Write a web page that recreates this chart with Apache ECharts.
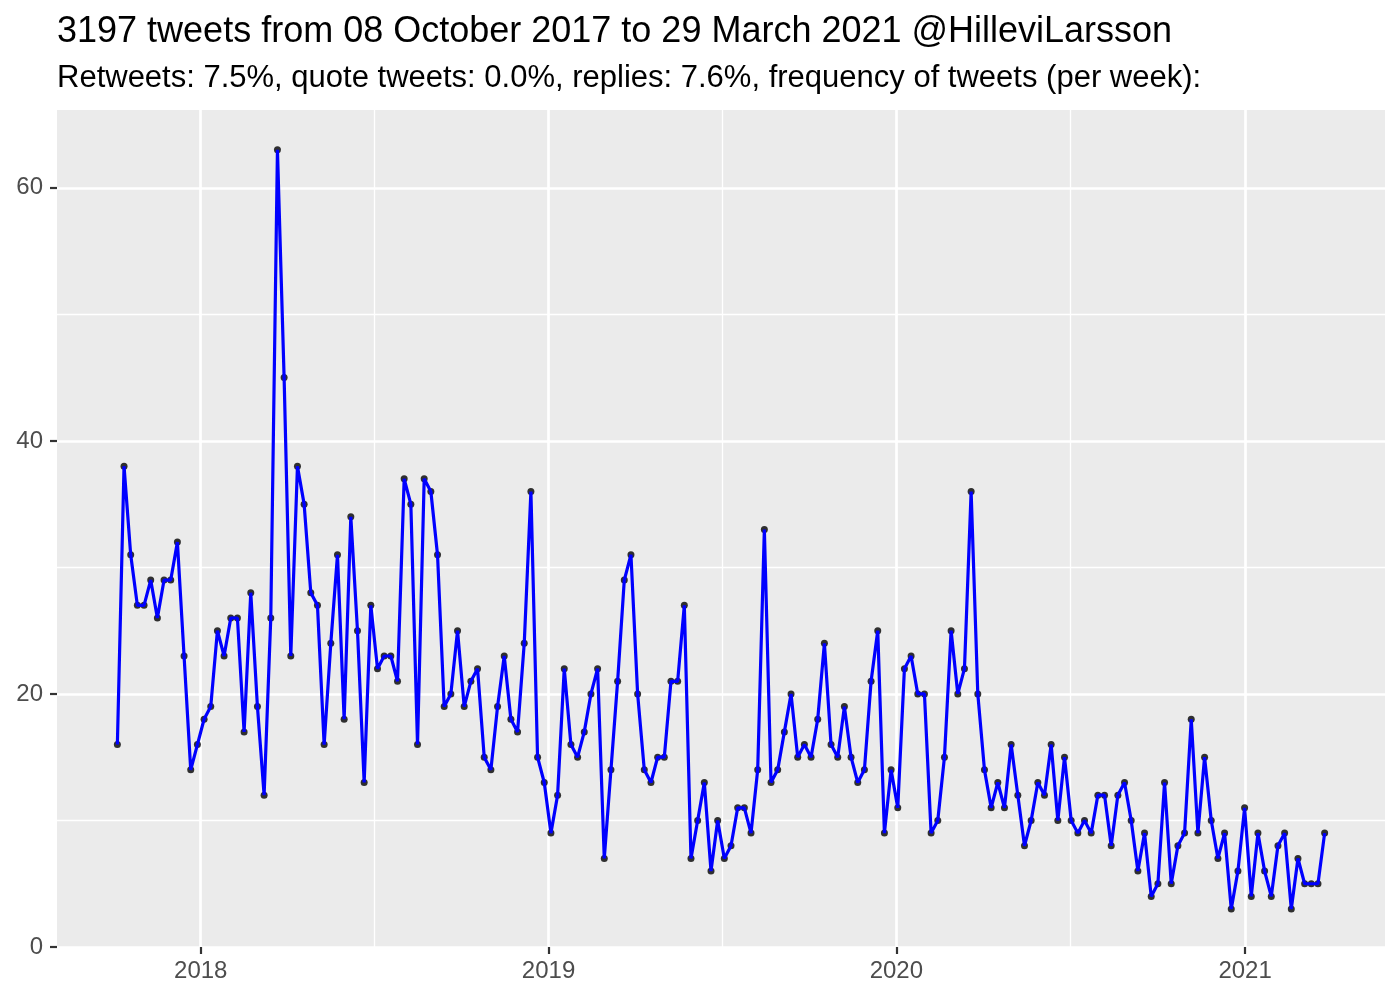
<!DOCTYPE html>
<html>
<head>
<meta charset="utf-8">
<script src="https://cdn.jsdelivr.net/npm/echarts@6/dist/echarts.min.js"></script>
<style>
  html, body { margin: 0; padding: 0; background: #ffffff; }
  #chart { width: 1400px; height: 1000px; }
</style>
</head>
<body>
<div id="chart"></div>
<script>
// Weekly tweet counts (182 weeks, total 3197)
const weeklyCounts = [
  16,38,31,27,27,29,26,29,29,32,
  23,14,16,18,19,25,23,26,26,17,
  28,19,12,26,63,45,23,38,35,28,
  27,16,24,31,18,34,25,13,27,22,
  23,23,21,37,35,16,37,36,31,19,
  20,25,19,21,22,15,14,19,23,18,
  17,24,36,15,13,9,12,22,16,15,
  17,20,22,7,14,21,29,31,20,14,
  13,15,15,21,21,27,7,10,13,6,
  10,7,8,11,11,9,14,33,13,14,
  17,20,15,16,15,18,24,16,15,19,
  15,13,14,21,25,9,14,11,22,23,
  20,20,9,10,15,25,20,22,36,20,
  14,11,13,11,16,12,8,10,13,12,
  16,10,15,10,9,10,9,12,12,8,
  12,13,10,6,9,4,5,13,5,8,
  9,18,9,15,10,7,9,3,6,11,
  4,9,6,4,8,9,3,7,5,5,
  5,9
];
// First weekly bin (UTC) and bin width
const firstWeek = Date.UTC(2017, 9, 5, 12);
const WEEK_MS = 7 * 24 * 3600 * 1000;
const weekDates = weeklyCounts.map((_, i) => firstWeek + i * WEEK_MS);

// Tick labels / breaks
const yearBreaks = [Date.UTC(2018,0,1), Date.UTC(2019,0,1), Date.UTC(2020,0,1), Date.UTC(2021,0,1)];
const yearMinorBreaks = [Date.UTC(2018,6,2,12), Date.UTC(2019,6,2,12), Date.UTC(2020,6,2)];
const yBreaks = [0, 20, 40, 60];
const yMinorBreaks = [10, 30, 50];

const titleText = '3197 tweets from 08 October 2017 to 29 March 2021 @HilleviLarsson';
const subtitleText = 'Retweets: 7.5%, quote tweets: 0.0%, replies: 7.6%, frequency of tweets (per week):';

const xSpan = weekDates[weekDates.length - 1] - weekDates[0];
const xMin = weekDates[0] - 0.05 * xSpan;
const xMax = weekDates[weekDates.length - 1] + 0.05 * xSpan;
const yMax = Math.max(...weeklyCounts) * 1.05;

const FONT = '"Liberation Sans", Arial, Helvetica, sans-serif';
const pts = weekDates.map((d, i) => [d, weeklyCounts[i]]);

const chart = echarts.init(document.getElementById('chart'), null, { renderer: 'canvas' });
chart.setOption({
  backgroundColor: '#ffffff',
  animation: false,
  title: [
    { text: titleText, left: 57, top: 14, padding: 0, textStyle: { fontFamily: FONT, fontSize: 36, fontWeight: 'normal', color: '#000000' } },
    { text: subtitleText, left: 57, top: 63, padding: 0, textStyle: { fontFamily: FONT, fontSize: 31, fontWeight: 'normal', color: '#000000' } }
  ],
  grid: {
    left: 57, right: 15, top: 110, bottom: 53,
    show: true, backgroundColor: '#EBEBEB', borderWidth: 0
  },
  xAxis: [
    {
      type: 'value', min: xMin, max: xMax,
      axisLine: { show: false },
      axisTick: { show: true, length: 7, customValues: yearBreaks, lineStyle: { color: '#333333', width: 2.2 } },
      axisLabel: { show: true, customValues: yearBreaks, margin: 12, fontFamily: FONT, fontSize: 24, color: '#4D4D4D',
        formatter: v => String(new Date(v).getUTCFullYear()) },
      splitLine: { show: true, lineStyle: { color: '#ffffff', width: 2.7 } }
    },
    {
      type: 'value', min: xMin, max: xMax, position: 'bottom',
      axisLine: { show: false },
      axisTick: { show: false, customValues: yearMinorBreaks },
      axisLabel: { show: false },
      splitLine: { show: true, lineStyle: { color: '#ffffff', width: 1.35 } }
    }
  ],
  yAxis: [
    {
      type: 'value', min: 0, max: yMax,
      axisLine: { show: false },
      axisTick: { show: true, length: 7, customValues: yBreaks, lineStyle: { color: '#333333', width: 2.2 } },
      axisLabel: { show: true, customValues: yBreaks, margin: 14, fontFamily: FONT, fontSize: 24, color: '#4D4D4D' },
      splitLine: { show: true, lineStyle: { color: '#ffffff', width: 2.7 } }
    },
    {
      type: 'value', min: 0, max: yMax, position: 'left',
      axisLine: { show: false },
      axisTick: { show: false, customValues: yMinorBreaks },
      axisLabel: { show: false },
      splitLine: { show: true, lineStyle: { color: '#ffffff', width: 1.35 } }
    }
  ],
  series: [
    {
      type: 'scatter', xAxisIndex: 0, yAxisIndex: 0, data: pts, z: 2,
      symbol: 'circle', symbolSize: 7, itemStyle: { color: '#000000' }
    },
    {
      type: 'line', xAxisIndex: 0, yAxisIndex: 0, data: pts, z: 3,
      showSymbol: false, symbol: 'none',
      lineStyle: { color: '#0000FF', width: 3.2 }
    }
  ]
});
</script>
</body>
</html>
